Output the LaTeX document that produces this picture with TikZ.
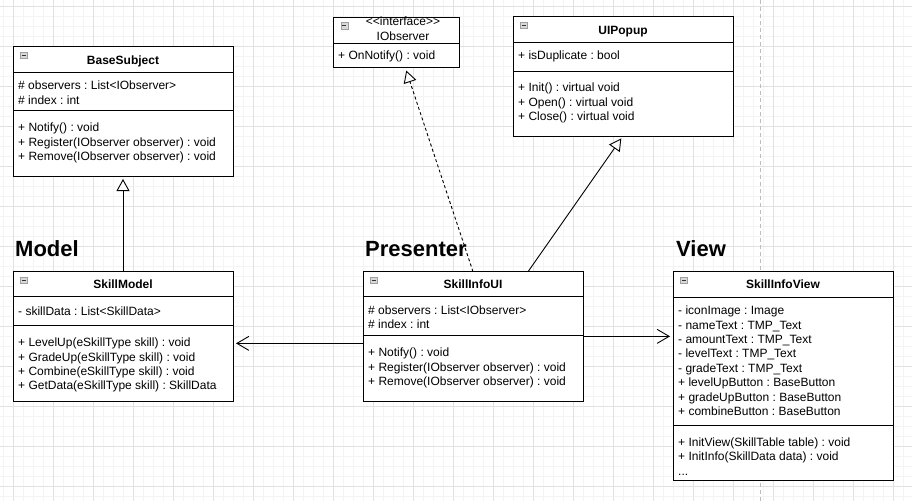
\documentclass[tikz,border=0pt]{standalone}
\usepackage{fontspec}
\setmainfont{Liberation Sans}
\frenchspacing
\usetikzlibrary{arrows.meta,calc}
\definecolor{gridminor}{HTML}{F4F4F4}
\definecolor{gridmajor}{HTML}{E2E2E2}
\definecolor{pageline}{HTML}{BDBDBD}
\tikzset{
  classbox/.style={draw=black, line width=1pt, fill=white, anchor=north west, inner sep=0pt, outer sep=0pt},
  txt/.style={anchor=base west, inner sep=0pt, font=\fontsize{12}{14}\selectfont},
  ctxt/.style={anchor=base, inner sep=0pt, font=\fontsize{12}{14}\selectfont},
  ttl/.style={anchor=base, inner sep=0pt, font=\fontsize{12}{14}\selectfont\bfseries},
  layer/.style={anchor=base west, inner sep=0pt, font=\fontsize{22}{26}\selectfont\bfseries},
  sepline/.style={line width=1pt},
  inherit/.style={line width=0.9pt, -{Triangle[length=12pt, width=13pt, fill=white]}, shorten >=3pt},
  realize/.style={inherit, dash pattern=on 3pt off 2.5pt},
  assoc/.style={line width=0.9pt, -{Straight Barb[length=12pt, width=14pt]}, shorten >=3pt},
}
\newcommand\collapseicon[3]{%
  \node[draw=gray!75, fill=gray!30, line width=0.6pt, minimum width=7pt, minimum height=6.5pt, inner sep=0pt, outer sep=0pt, anchor=north west] (#1) at (#2,#3) {};
  \draw[line width=0.8pt, black!80] ([xshift=1.4pt]#1.west) -- ([xshift=-1.4pt]#1.east);
}
\newcommand\umlclass[7]{% name, L, T, W, H, header y, separator y
  \node[classbox, minimum width=#4pt, minimum height=#5pt] (#1) at (#2,#3) {};
  \draw[sepline] (#1.west |- 0,#6) -- (#1.east |- 0,#6);
  \draw[sepline] (#1.west |- 0,#7) -- (#1.east |- 0,#7);
  \collapseicon{#1-ic}{#2+7.5}{#3+5.5}
}
\newcommand\classlines[5]{% prefix, x, first centre y, step, list
  \foreach \lineitem [count=\i] in {#5} {\node[txt] (#1\i) at (#2, #3+4+#4*\i-#4) {\lineitem};}
}
\begin{document}
\begin{tikzpicture}[x=1pt, y=-1pt]
\useasboundingbox (0,0) rectangle (912,501);
\fill[white] (0,0) rectangle (912,501);
% grid
\foreach \x in {0,...,90} \draw[gridminor, line width=0.7pt] (3+10*\x,0) -- (3+10*\x,501);
\foreach \y in {0,...,49} \draw[gridminor, line width=0.7pt] (0,6.5+10*\y) -- (912,6.5+10*\y);
\foreach \x in {0,...,22} \draw[gridmajor, line width=0.8pt] (13+40*\x,0) -- (13+40*\x,501);
\foreach \y in {0,...,12} \draw[gridmajor, line width=0.8pt] (0,6.5+40*\y) -- (912,6.5+40*\y);
\draw[pageline, line width=0.8pt, dash pattern=on 4pt off 3pt] (760,0) -- (760,501);

% layer labels
\node[layer] (lmodel) at (15,256.5) {Model};
\node[layer] (lpres) at (365,256.5) {Presenter};
\node[layer] (lview) at (676,256.5) {View};

% BaseSubject
\umlclass{bs}{13}{46.7}{220}{129.3}{72.7}{110.3}
\node[ttl] (bs-t) at (123,64.3) {BaseSubject};
\classlines{bsa}{18}{85}{15}{{\# observers : List<IObserver>},{\# index : int}}
\classlines{bsm}{18}{127.7}{14.5}{{+ Notify() : void},{+ Register(IObserver observer) : void},{+ Remove(IObserver observer) : void}}

% IObserver
\umlclass{io}{333.3}{17}{126}{50.7}{43.3}{43.3}
\node[ctxt] (io-s) at (403,25.5) {<\kern0pt<interface>\kern0pt>};
\node[ctxt] (io-t) at (403,40.5) {IObserver};
\classlines{ioa}{338}{55.7}{14.5}{{+ OnNotify() : void}}

% UIPopup
\umlclass{up}{513}{16.7}{220}{119.3}{42.3}{71}
\node[ttl] (up-t) at (623,34.3) {UIPopup};
\classlines{upa}{518}{55}{14.5}{{+ isDuplicate : bool}}
\classlines{upm}{518}{87.7}{14.5}{{+ Init() : virtual void},{+ Open() : virtual void},{+ Close() : virtual void}}

% SkillModel
\umlclass{sm}{13}{271.7}{220}{129.3}{296.7}{325.7}
\node[ttl] (sm-t) at (123,288.3) {SkillModel};
\classlines{sma}{18}{311}{14.5}{{- skillData : List<SkillData>}}
\classlines{smm}{18}{342.7}{14.35}{{+ LevelUp(eSkillType skill) : void},{+ GradeUp(eSkillType skill) : void},{+ Combine(eSkillType skill) : void},{+ GetData(eSkillType skill) : SkillData}}

% SkillInfoUI
\umlclass{ui}{363}{271.7}{220}{129.3}{296.7}{335.3}
\node[ttl] (ui-t) at (473,288.6) {SkillInfoUI};
\classlines{uia}{368}{310.7}{14}{{\# observers : List<IObserver>},{\# index : int}}
\classlines{uim}{368}{352.7}{14.5}{{+ Notify() : void},{+ Register(IObserver observer) : void},{+ Remove(IObserver observer) : void}}

% SkillInfoView
\umlclass{sv}{673}{271.7}{220}{209}{297.3}{425.3}
\node[ttl] (sv-t) at (783,288.3) {SkillInfoView};
\classlines{sva}{678}{310.7}{14.43}{{- iconImage : Image},{- nameText : TMP\_Text},{- amountText : TMP\_Text},{- levelText : TMP\_Text},{- gradeText : TMP\_Text},{+ levelUpButton : BaseButton},{+ gradeUpButton : BaseButton},{+ combineButton : BaseButton}}
\classlines{svm}{678}{442}{14.5}{{+ InitView(SkillTable table) : void},{+ InitInfo(SkillData data) : void}}
\node[txt] (svm3) at (678,475) {...};

% connectors
\draw[inherit] (sm.north) -- (bs.south);
\draw[realize] (ui.north) -- ([xshift=9pt]io.south);
\draw[inherit] ([xshift=55pt]ui.north) -- (up.south);
\draw[assoc] ([yshift=-7pt]ui.west) -- ([yshift=-7pt]sm.east);
\draw[assoc] (ui.east) -- (ui.east -| sv.west);
\end{tikzpicture}
\end{document}
